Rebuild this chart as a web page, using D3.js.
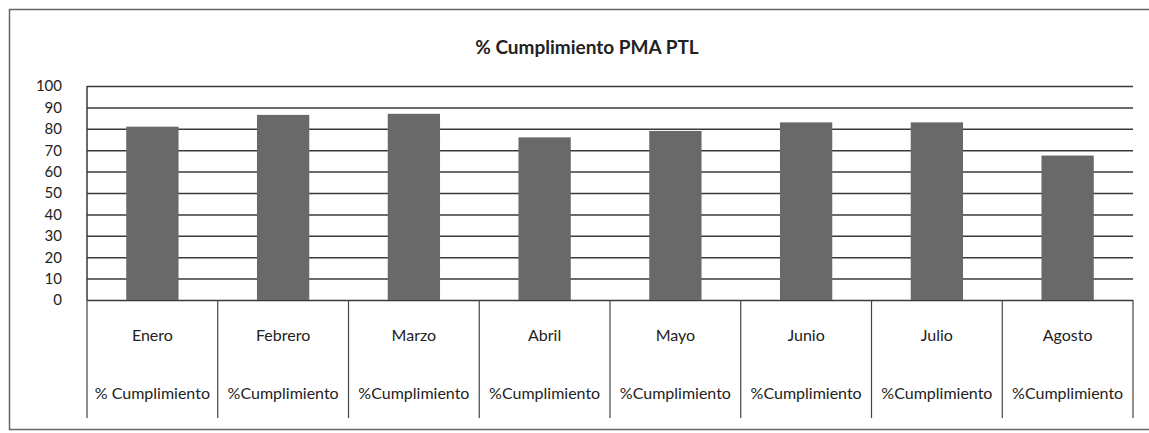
<!DOCTYPE html>
<html>
<head>
<meta charset="utf-8">
<script src="https://cdnjs.cloudflare.com/ajax/libs/d3/7.8.5/d3.min.js"></script>
<style>
	body { margin: 0; background: #fff; }
	text { font-family: Lato, "Open Sans", sans-serif; fill: #222; }
</style>
</head>
<body>
<div id="chart"></div>
<script>
// datos del gráfico
let months		= ['Enero', 'Febrero', 'Marzo', 'Abril', 'Mayo', 'Junio', 'Julio', 'Agosto'];
let seriesLabels	= ['% Cumplimiento', '%Cumplimiento', '%Cumplimiento', '%Cumplimiento', '%Cumplimiento', '%Cumplimiento', '%Cumplimiento', '%Cumplimiento'];
let cumplimiento	= [81, 86.5, 87, 76, 79, 83, 83, 67.5];
let yTicks		= [0, 10, 20, 30, 40, 50, 60, 70, 80, 90, 100];
let chartTitle		= '% Cumplimiento PMA PTL';

let canvasWidth		= 1149;
let canvasHeight	= 433;

let margin		= { top: 86, right: 16, bottom: 133, left: 87 };
let width		= canvasWidth - margin.left - margin.right;
let height		= canvasHeight - margin.top - margin.bottom;
let tableHeight		= 118;

let x = d3.scaleBand().domain(months).range([0, width]).paddingInner(0.6).paddingOuter(0.3);
let xCell = d3.scaleBand().domain(months).range([0, width]);
let y = d3.scaleLinear().domain([0, 100]).range([height, 0]);

let root = d3.select('#chart').append('svg')
		.attr('width', canvasWidth)
		.attr('height', canvasHeight);

// marco exterior
root.append('rect')
	.attr('x', 9.5)
	.attr('y', 9.5)
	.attr('width', canvasWidth)
	.attr('height', 420)
	.attr('fill', 'none')
	.attr('stroke', '#666')
	.attr('stroke-width', 1.5);

root.append('text')
	.attr('x', 587)
	.attr('y', 54)
	.attr('text-anchor', 'middle')
	.style('font-size', '19px')
	.style('font-weight', 'bold')
	.text(chartTitle);

let svg = root.append('g')
	.attr('transform', 'translate(' + margin.left + ',' + margin.top + ')');

// líneas de cuadrícula
svg.append('g')
	.call(d3.axisLeft(y).tickValues(yTicks).tickSize(-width).tickFormat(''))
	.call((g) => g.select('.domain').remove())
	.selectAll('line')
		.attr('stroke', '#3a3a3a')
		.attr('stroke-width', 1.5);

// etiquetas eje Y
svg.append('g')
	.attr('transform', 'translate(-22,0)')
	.call(d3.axisLeft(y).tickValues(yTicks).tickSize(0))
	.call((g) => g.select('.domain').remove())
	.selectAll('text')
		.style('font-size', '15px')
		.attr('fill', '#222');

svg.selectAll('.bar')
		.data(cumplimiento)
	.enter().append('rect')
		.attr('class', 'bar')
		.attr('x', (d, i) => x(months[i]))
		.attr('y', (d) => y(d))
		.attr('width', x.bandwidth())
		.attr('height', (d) => height - y(d))
		.attr('fill', '#696969');

svg.append('line')
	.attr('x1', 0).attr('x2', 0)
	.attr('y1', 0).attr('y2', height)
	.attr('stroke', '#3a3a3a')
	.attr('stroke-width', 1.5);

// tabla de categorías
let table = svg.append('g').attr('transform', 'translate(0,' + height + ')');

table.selectAll('.sep')
		.data(months.concat(['fin']))
	.enter().append('line')
		.attr('class', 'sep')
		.attr('x1', (d, i) => i * xCell.bandwidth())
		.attr('x2', (d, i) => i * xCell.bandwidth())
		.attr('y1', 0)
		.attr('y2', tableHeight)
		.attr('stroke', '#444')
		.attr('stroke-width', 1.2);

table.selectAll('.month')
		.data(months)
	.enter().append('text')
		.attr('class', 'month')
		.attr('x', (d) => xCell(d) + xCell.bandwidth() / 2)
		.attr('y', 41)
		.attr('text-anchor', 'middle')
		.style('font-size', '16px')
		.text((d) => d);

table.selectAll('.serie')
		.data(seriesLabels)
	.enter().append('text')
		.attr('class', 'serie')
		.attr('x', (d, i) => xCell(months[i]) + xCell.bandwidth() / 2)
		.attr('y', 99)
		.attr('text-anchor', 'middle')
		.style('font-size', '16px')
		.text((d) => d);
</script>
</body>
</html>
